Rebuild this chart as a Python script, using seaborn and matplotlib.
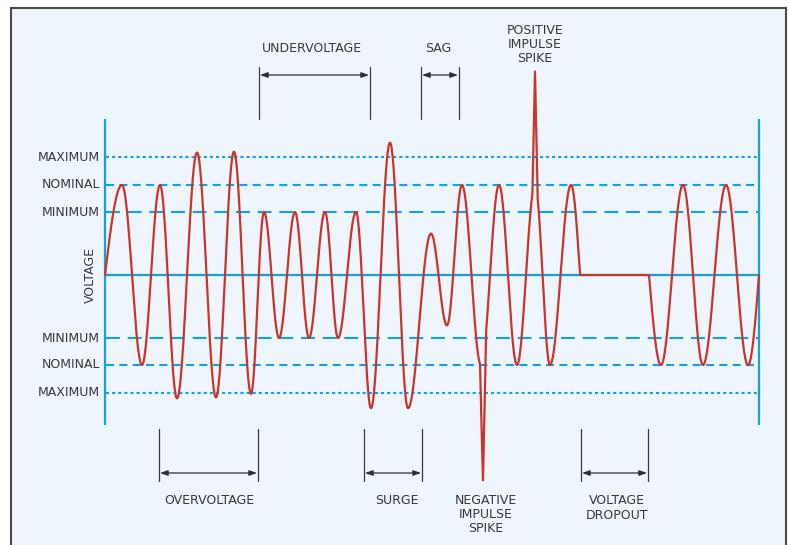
import numpy as np
import pandas as pd
import matplotlib
matplotlib.use("Agg")
import matplotlib.pyplot as plt
import seaborn as sns
from matplotlib.patches import Rectangle

# ---------------- data ----------------
# extremum / zero-crossing knots of the waveform: time (px units) and voltage (nominal = 1)
knot_t = [105, 122, 142, 160, 177, 197, 216, 234, 251, 264, 279, 295, 309, 325, 338,
          356, 371, 390, 408, 431, 447, 462, 481, 499, 517, 535, 550, 571, 580, 649,
          661, 683, 703, 726, 748, 759]
knot_v = [0, 1.0, -1.0, 1.0, -1.37, 1.36, -1.36, 1.37, -1.32, 0.70, -0.70, 0.70, -0.70,
          0.70, -0.70, 0.70, -1.48, 1.47, -1.48, 0.46, -0.56, 1.0, -1.0, 1.0, -1.0, 1.0,
          -1.0, 1.0, 0, 0, -1.0, 1.0, -1.0, 1.0, -1.0, 0]
spike_t = [483, 535]
spike_v = [-2.28, 2.26]
spike_hw = [3.0, 2.6]

level_names = ["MAXIMUM", "NOMINAL", "MINIMUM", "MINIMUM", "NOMINAL", "MAXIMUM"]
level_vals = [1.31, 1.0, 0.70, -0.70, -1.0, -1.31]

top_spans = [(259, 370), (421, 459)]
top_labels = ["UNDERVOLTAGE", "SAG"]
top_label_x = [312, 438]
bottom_spans = [(159, 258), (364, 422), (581, 648)]
bottom_labels = ["OVERVOLTAGE", "SURGE", "VOLTAGE\nDROPOUT"]
bottom_label_x = [209, 397, 617]

# ---------------- styling ----------------
RED = "#C9352A"
BLUE = "#14A2DE"
TXT = "#383838"
BG = "#EEF5FC"

sns.set_style("white")
plt.rcParams["font.family"] = ["DejaVu Sans"]
plt.rcParams["lines.scale_dashes"] = False

def pv(y):
    """pixel row -> voltage units"""
    return (275 - y) / 90.0

# ---------------- build waveform ----------------
ts, vs = [], []
for i in range(len(knot_t) - 1):
    t0, t1 = knot_t[i], knot_t[i + 1]
    v0, v1 = knot_v[i], knot_v[i + 1]
    s = np.linspace(0, 1, int((t1 - t0) * 8) + 2)[:-1]
    if v0 == 0 and v1 == 0:
        v = np.zeros_like(s)
    elif v0 == 0:
        v = v1 * np.sin(np.pi / 2 * s)
    elif v1 == 0:
        v = v0 * np.cos(np.pi / 2 * s)
    else:
        v = v0 + (v1 - v0) * (1 - np.cos(np.pi * s)) / 2
    ts.append(t0 + (t1 - t0) * s)
    vs.append(v)
ts.append([knot_t[-1]]); vs.append([knot_v[-1]])
t = np.concatenate(ts)
v = np.concatenate(vs)
for c, sv, hw in zip(spike_t, spike_v, spike_hw):
    base_c = np.interp(c, t, v)
    m = np.abs(t - c) < hw
    v[m] = v[m] + (sv - base_c) * (1 - np.abs(t[m] - c) / hw)
    # ensure exact apex
    idx = np.argmin(np.abs(t - c))
    v[idx] = sv
wave = pd.DataFrame({"time": t, "voltage": v})

# ---------------- figure ----------------
fig = plt.figure(figsize=(7.89, 5.45), dpi=100)
ax = fig.add_axes([0, 0, 1, 1])
ax.set_xlim(0, 789)
ax.set_ylim(pv(545), pv(0))
ax.axis("off")
fig.patch.set_facecolor("white")

ax.add_patch(Rectangle((11, pv(600)), 786 - 11, pv(8) - pv(600), facecolor=BG,
                       edgecolor="#4a4a4a", lw=1.5, zorder=0))

x0, x1 = 105, 759
# vertical axis lines
for xx in (x0, x1):
    ax.plot([xx, xx], [pv(425), pv(119)], color=BLUE, lw=1.6, zorder=2,
            solid_capstyle="butt")
# zero line
ax.plot([x0, x1], [0, 0], color=BLUE, lw=1.6, zorder=2)
# level lines
dash_for = {"MAXIMUM": (2.2, 2.2), "NOMINAL": (5.8, 3.8), "MINIMUM": (10.0, 5.6)}
for name, lv in zip(level_names, level_vals):
    ln, = ax.plot([x0 + 1, x1 - 1], [lv, lv], color=BLUE, lw=1.5, zorder=2)
    ln.set_dashes(dash_for[name])
    ax.text(100, lv, name, ha="right", va="center", fontsize=9, color=TXT)

ax.text(90, 0, "VOLTAGE", rotation=90, ha="center", va="center", fontsize=9, color=TXT)

# waveform
sns.lineplot(data=wave, x="time", y="voltage", sort=False, estimator=None,
             color=RED, lw=1.6, ax=ax, zorder=4)
ax.set_xlim(0, 789)
ax.set_ylim(pv(545), pv(0))
ax.axis("off")

# annotations
arrow_kw = dict(arrowstyle="<|-|>,head_length=0.45,head_width=0.16", color="#2e2e2e",
                lw=0.9, shrinkA=0, shrinkB=0)
for (a, b), lab, lx in zip(top_spans, top_labels, top_label_x):
    for xx in (a, b):
        ax.plot([xx, xx], [pv(119), pv(67)], color="#3a3a3a", lw=0.9, zorder=3)
    ax.annotate("", xy=(a + 1, pv(75)), xytext=(b - 1, pv(75)), arrowprops=arrow_kw)
    ax.text(lx, pv(48), lab, ha="center", va="center", fontsize=9, color=TXT)

for (a, b), lab, lx in zip(bottom_spans, bottom_labels, bottom_label_x):
    for xx in (a, b):
        ax.plot([xx, xx], [pv(429), pv(481)], color="#3a3a3a", lw=0.9, zorder=3)
    ax.annotate("", xy=(a + 1, pv(473)), xytext=(b - 1, pv(473)), arrowprops=arrow_kw)
    yc = 501 if "\n" not in lab else 508
    ax.text(lx, pv(yc), lab, ha="center", va="center", fontsize=9, color=TXT,
            linespacing=1.15)

ax.text(535, pv(45), "POSITIVE\nIMPULSE\nSPIKE", ha="center", va="center", fontsize=9,
        color=TXT, linespacing=1.1)
ax.text(486, pv(515), "NEGATIVE\nIMPULSE\nSPIKE", ha="center", va="center", fontsize=9,
        color=TXT, linespacing=1.1)

fig.savefig("out.png", dpi=100)
